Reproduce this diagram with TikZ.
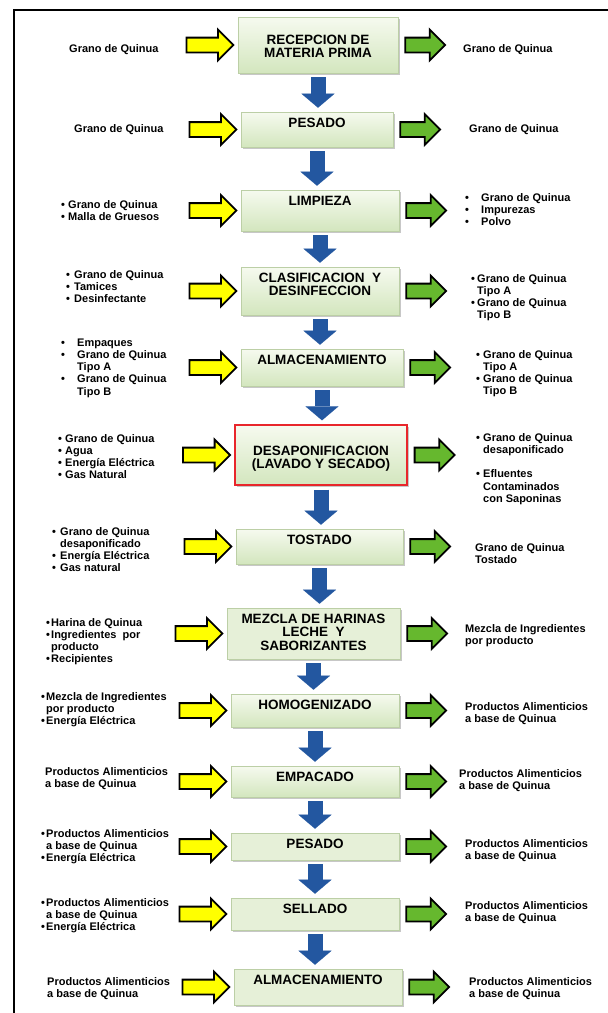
\documentclass[tikz,border=0pt]{standalone}
\usepackage{fontspec}
\setmainfont{Liberation Sans}
\usetikzlibrary{positioning,shapes.arrows,arrows.meta,shadows}
\definecolor{boxtop}{HTML}{F6FAEF}
\definecolor{boxbot}{HTML}{D3E6BE}
\definecolor{boxflat}{HTML}{E6F0D8}
\definecolor{boxline}{HTML}{BCCFA6}
\definecolor{redline}{HTML}{E8262B}
\definecolor{inyellow}{HTML}{FFFF00}
\definecolor{outgreen}{HTML}{66B82E}
\definecolor{flowblue}{HTML}{2357A0}
\newcommand{\LabFont}{\fontsize{11}{12.3}\selectfont\bfseries}
\newcommand{\BoxFont}{\fontsize{13.5}{13.8}\selectfont\bfseries}
\newcommand{\bu}[1][7pt]{\makebox[#1][l]{\textbullet}}
\newcommand{\nb}[1][7pt]{\hspace*{#1}}
\newcommand{\rows}[1]{\begin{tabular}[t]{@{}l@{}}#1\end{tabular}}
\newcommand{\crows}[1]{\begin{tabular}[t]{@{}c@{}}#1\end{tabular}}

\begin{document}
\begin{tikzpicture}[x=1pt,y=-1pt,
  stage/.style={draw=boxline, line width=0.6pt, top color=boxtop, bottom color=boxbot,
    font=\BoxFont, anchor=base, inner xsep=0pt, inner ysep=5pt, text height=10pt,
    drop shadow={shadow xshift=1.6pt, shadow yshift=-1.8pt, fill=black!40, opacity=0.55}},
  flatstage/.style={stage, top color=boxflat, bottom color=boxflat},
  inarrow/.style={single arrow, draw=black, line width=1.8pt, fill=inyellow,
    minimum height=47pt, minimum width=29pt, single arrow head extend=8pt,
    single arrow tip angle=90, inner xsep=0pt, inner ysep=6.5pt},
  outarrow/.style={inarrow, fill=outgreen, minimum height=40pt},
  flowdown/.style={flowblue, line width=15pt,
    -{Triangle[width=33pt,length=14pt,line width=0.1pt]}, shorten <=4pt, shorten >=4pt},
  lab/.style={font=\LabFont, inner sep=0pt, anchor=base west}]

  \fill[white] (0,0) rectangle (608,1013);
  \useasboundingbox (0,0) rectangle (608,1013);
  \draw[line width=2pt] (608,10) -- (14,10) -- (14,1013);

  % ---- etapas del proceso --------------------------------------------------
  \node[stage, minimum width=160pt, text height=22pt, text depth=24pt] (s1) at (318,44) {\crows{RECEPCION DE\\ MATERIA PRIMA}};
  \node[stage, minimum width=152pt, text depth=15pt] (s2) at (317,127) {PESADO};
  \node[stage, minimum width=158pt, text depth=21pt] (s3) at (320,205) {LIMPIEZA};
  \node[stage, minimum width=158pt, text depth=28pt] (s4) at (320,282) {\crows{CLASIFICACION\ \ Y\\ DESINFECCION}};
  \node[stage, minimum width=162pt, text depth=17pt] (s5) at (322,364) {ALMACENAMIENTO};
  \node[stage, draw=redline, line width=1.4pt, minimum width=172pt, text height=25pt, text depth=25pt] (s6) at (321,455) {\crows{DESAPONIFICACION\\ (LAVADO Y SECADO)}};
  \node[stage, minimum width=167pt, text depth=15pt] (s7) at (319.5,544) {TOSTADO};
  \node[flatstage, minimum width=173pt, text depth=31pt] (s8) at (313.5,623) {\crows{MEZCLA DE HARINAS\\ LECHE\ \ Y\\ SABORIZANTES}};
  \node[stage, minimum width=168pt, text depth=13pt] (s9) at (315,709) {HOMOGENIZADO};
  \node[stage, minimum width=168pt, text depth=11pt] (s10) at (315,781) {EMPACADO};
  \node[flatstage, minimum width=168pt, text depth=7pt] (s11) at (315,848) {PESADO};
  \node[flatstage, minimum width=168pt, text depth=12pt] (s12) at (315,913) {SELLADO};
  \node[flatstage, minimum width=168pt, text depth=16pt] (s13) at (318,984) {ALMACENAMIENTO};

  % ---- entradas, salidas y flujo -------------------------------------------
  \foreach \i in {1,...,13} {
    \node[inarrow, left=3pt of s\i] (in\i) {};
    \node[outarrow, right=6pt of s\i] (out\i) {};
  }
  \foreach \i [count=\j from 2] in {1,...,12}
    \draw[flowdown] (s\i.south) -- (s\i.south |- s\j.north);

  % ---- entradas ------------------------------------------------------------
  \node[lab] (l1) at (69,52) {Grano de Quinua};
  \node[lab] (l2) at (74,132) {Grano de Quinua};
  \node[lab] (l3) at (61,208) {\rows{\bu Grano de Quinua\\ \bu Malla de Gruesos}};
  \node[lab] (l4) at (66,278) {\rows{\bu[8pt]Grano de Quinua\\ \bu[8pt]Tamices\\ \bu[8pt]Desinfectante}};
  \node[lab] (l5) at (61,346) {\rows{\bu[16pt]Empaques\\ \bu[16pt]Grano de Quinua\\ \nb[16pt]Tipo A\\ \bu[16pt]Grano de Quinua\\ \nb[16pt]Tipo B}};
  \node[lab] (l6) at (58,442) {\rows{\bu Grano de Quinua\\ \bu Agua\\ \bu Energía Eléctrica\\ \bu Gas Natural}};
  \node[lab] (l7) at (52,535) {\rows{\bu[8pt]Grano de Quinua\\ \nb[8pt]desaponificado\\ \bu[8pt]Energía Eléctrica\\ \bu[8pt]Gas natural}};
  \node[lab] (l8) at (46,626) {\rows{\bu[5pt]Harina de Quinua\\ \bu[5pt]Ingredientes\ \ por\\ \nb[5pt]producto\\ \bu[5pt]Recipientes}};
  \node[lab] (l9) at (41,700) {\rows{\bu[5pt]Mezcla de Ingredientes\\ \nb[5pt]por producto\\ \bu[5pt]Energía Eléctrica}};
  \node[lab] (l10) at (45,775) {\rows{Productos Alimenticios\\ a base de Quinua}};
  \node[lab] (l11) at (41,837) {\rows{\bu[5pt]Productos Alimenticios\\ \nb[5pt]a base de Quinua\\ \bu[5pt]Energía Eléctrica}};
  \node[lab] (l12) at (41,906) {\rows{\bu[5pt]Productos Alimenticios\\ \nb[5pt]a base de Quinua\\ \bu[5pt]Energía Eléctrica}};
  \node[lab] (l13) at (47,985) {\rows{Productos Alimenticios\\ a base de Quinua}};

  % ---- salidas -------------------------------------------------------------
  \node[lab] (r1) at (463,52) {Grano de Quinua};
  \node[lab] (r2) at (469,132) {Grano de Quinua};
  \node[lab] (r3) at (465,201) {\rows{\bu[16pt]Grano de Quinua\\ \bu[16pt]Impurezas\\ \bu[16pt]Polvo}};
  \node[lab] (r4) at (471,282) {\rows{\bu[6pt]Grano de Quinua\\ \nb[6pt]Tipo A\\ \bu[6pt]Grano de Quinua\\ \nb[6pt]Tipo B}};
  \node[lab] (r5) at (476,358) {\rows{\bu Grano de Quinua\\ \nb Tipo A\\ \bu Grano de Quinua\\ \nb Tipo B}};
  \node[lab] (r6) at (476,441) {\rows{\bu Grano de Quinua\\ \nb desaponificado\\[12.3pt] \bu Efluentes\\ \nb Contaminados\\ \nb con Saponinas}};
  \node[lab] (r7) at (475,551) {\rows{Grano de Quinua\\ Tostado}};
  \node[lab] (r8) at (465,632) {\rows{Mezcla de Ingredientes\\ por producto}};
  \node[lab] (r9) at (465,710) {\rows{Productos Alimenticios\\ a base de Quinua}};
  \node[lab] (r10) at (459,777) {\rows{Productos Alimenticios\\ a base de Quinua}};
  \node[lab] (r11) at (465,847) {\rows{Productos Alimenticios\\ a base de Quinua}};
  \node[lab] (r12) at (465,909) {\rows{Productos Alimenticios\\ a base de Quinua}};
  \node[lab] (r13) at (469,985) {\rows{Productos Alimenticios\\ a base de Quinua}};

\end{tikzpicture}
\end{document}
